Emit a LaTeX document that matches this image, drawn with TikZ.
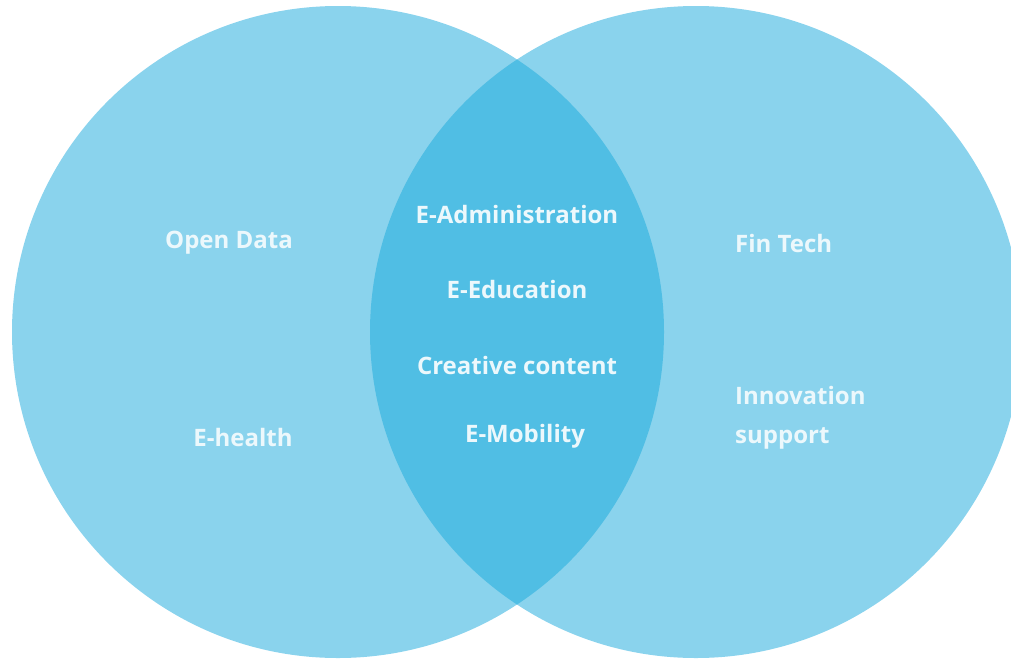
\documentclass[tikz,border=0pt]{standalone}
\usepackage{fontspec}
\setmainfont{Open Sans}
\definecolor{venn}{RGB}{138,211,237}
\definecolor{overlap}{RGB}{80,190,228}
\definecolor{labeltext}{RGB}{236,248,252}
\begin{document}
\begin{tikzpicture}[x=1pt,y=-1pt,
  label/.style={text=labeltext,font=\fontsize{24}{39}\selectfont\bfseries,inner sep=0pt},
  leftlabel/.style={label,anchor=west,align=left}]
  \useasboundingbox (0,0) rectangle (1011,662);
  \clip (0,0) rectangle (1011,662);
  % the two sets
  \fill[venn] (338,332) circle[radius=326];
  \fill[venn] (696,332) circle[radius=326];
  % their overlap
  \begin{scope}
    \clip (338,332) circle[radius=326];
    \fill[overlap] (696,332) circle[radius=326];
  \end{scope}
  % left set
  \node[label] (opendata) at (229,243) {Open Data};
  \node[label] (ehealth) at (243,437) {E-health};
  % shared items
  \node[label] (eadmin) at (517,214) {E-Administration};
  \node[label] (eedu) at (517,289) {E-Education};
  \node[label] (creative) at (517,365) {Creative content};
  \node[label] (emob) at (525,436) {E-Mobility};
  % right set
  \node[leftlabel] (fintech) at (735,243) {Fin Tech};
  \node[leftlabel] (innov) at (735,418) {Innovation\\support};
\end{tikzpicture}
\end{document}
